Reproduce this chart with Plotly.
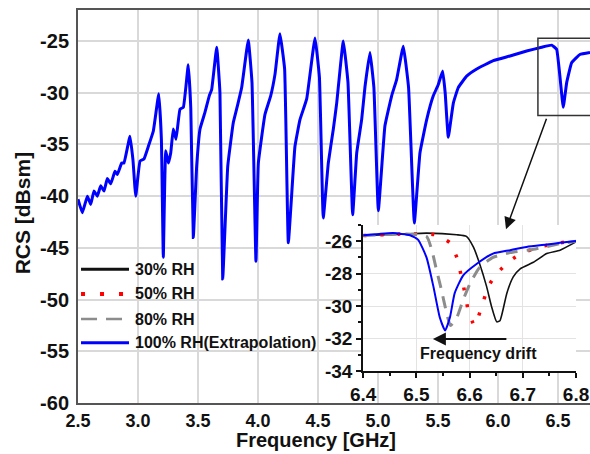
import plotly.graph_objects as go

# ---------------- data ----------------
# main curve (100% RH, extrapolation)
main_f = [2.500, 2.536, 2.578, 2.606, 2.633, 2.661, 2.689, 2.717, 2.744, 2.773, 2.808, 2.828, 2.864, 2.883,
          2.933, 2.958, 2.981, 3.017, 3.050, 3.086, 3.128, 3.173, 3.195, 3.211, 3.231, 3.253, 3.273, 3.294,
          3.317, 3.350, 3.378, 3.419, 3.440, 3.461, 3.489, 3.517, 3.558, 3.594, 3.614, 3.656, 3.683, 3.706,
          3.748, 3.794, 3.828, 3.864, 3.919, 3.950, 3.983, 4.003, 4.058, 4.106, 4.142, 4.183, 4.222, 4.253,
          4.308, 4.350, 4.406, 4.475, 4.512, 4.544, 4.586, 4.628, 4.656, 4.711, 4.750, 4.789, 4.823, 4.864,
          4.892, 4.933, 4.966, 5.003, 5.058, 5.114, 5.156, 5.211, 5.255, 5.303, 5.350, 5.406, 5.461, 5.503,
          5.539, 5.560, 5.586, 5.628, 5.669, 5.739, 5.823, 5.961, 6.100, 6.239, 6.364, 6.448, 6.489, 6.544,
          6.573, 6.614, 6.683, 6.767]
main_rcs = [-40.3, -41.6, -40.0, -40.8, -39.5, -40.0, -39.0, -39.5, -38.3, -38.8, -37.6, -37.9, -36.8, -36.8,
            -34.2, -36.5, -40.0, -36.6, -36.4, -35.2, -33.7, -30.1, -34.5, -45.9, -35.6, -36.8, -35.8, -33.5,
            -34.5, -31.6, -31.4, -27.3, -31.5, -44.0, -37.1, -33.5, -31.9, -30.3, -29.7, -25.6, -30.0, -48.0,
            -37.1, -32.9, -31.3, -29.5, -24.9, -29.0, -46.3, -36.8, -32.1, -30.3, -28.2, -24.3, -27.7, -44.5,
            -35.2, -32.6, -30.6, -24.7, -28.5, -42.1, -36.8, -33.5, -31.0, -25.0, -29.0, -41.8, -35.8, -32.6,
            -29.4, -26.1, -29.5, -41.4, -33.2, -30.3, -28.7, -25.5, -29.5, -42.6, -35.8, -32.6, -30.3, -29.2,
            -27.9, -30.0, -34.3, -31.0, -29.5, -28.4, -27.7, -26.9, -26.45, -25.97, -25.6, -25.4, -25.8, -31.4,
            -29.0, -27.1, -26.3, -26.1]

# inset curves
rh30_f = [6.400, 6.450, 6.519, 6.576, 6.594, 6.607, 6.619, 6.632, 6.641, 6.651, 6.657, 6.670, 6.682, 6.695,
          6.720, 6.745, 6.770, 6.800]
rh30_v = [-25.65, -25.6, -25.5, -25.6, -25.7, -26.35, -27.4, -28.8, -30.0, -30.97, -30.9, -29.2, -28.2, -27.7,
          -27.3, -26.76, -26.55, -26.04]

rh50_f = [6.400, 6.480, 6.535, 6.563, 6.576, 6.582, 6.588, 6.593, 6.597, 6.609, 6.616, 6.626, 6.635, 6.651,
          6.676, 6.701, 6.732, 6.770, 6.800]
rh50_v = [-25.65, -25.55, -25.6, -26.1, -27.0, -27.8, -28.7, -29.5, -30.2, -31.2, -30.7, -29.7, -28.8, -28.0,
          -27.2, -26.7, -26.35, -26.1, -25.98]

rh80_f = [6.400, 6.480, 6.519, 6.529, 6.538, 6.547, 6.557, 6.564, 6.576, 6.588, 6.601, 6.619, 6.644, 6.676,
          6.720, 6.770, 6.800]
rh80_v = [-25.65, -25.55, -25.7, -26.55, -27.8, -29.0, -30.45, -31.2, -30.7, -29.6, -28.6, -27.6, -27.0, -26.7,
          -26.5, -26.15, -26.0]

rh100_f = [6.400, 6.430, 6.456, 6.488, 6.503, 6.519, 6.532, 6.544, 6.554, 6.563, 6.572, 6.588, 6.613, 6.644,
           6.676, 6.707, 6.745, 6.770, 6.800]
rh100_v = [-25.63, -25.55, -25.5, -25.63, -25.9, -27.0, -28.8, -30.7, -31.5, -30.7, -29.2, -28.1, -27.4, -26.76,
           -26.55, -26.35, -26.2, -26.1, -25.98]

main_xticks = [2.5, 3.0, 3.5, 4.0, 4.5, 5.0, 5.5, 6.0, 6.5]
main_yticks = [-25, -30, -35, -40, -45, -50, -55, -60]
inset_xticks = [6.4, 6.5, 6.6, 6.7, 6.8]
inset_yticks = [-26, -28, -30, -32, -34]
legend_names = ["30% RH", "50% RH", "80% RH", "100% RH(Extrapolation)"]

# ---------------- figure ----------------
FONT = "Liberation Sans, Arial, sans-serif"
fig = go.Figure()

fig.add_trace(go.Scatter(x=main_f, y=main_rcs, mode="lines",
                         line=dict(color="#0000ff", width=3, shape="spline", smoothing=0.3),
                         xaxis="x", yaxis="y", showlegend=False, name=legend_names[3]))

fig.add_trace(go.Scatter(x=rh30_f, y=rh30_v, mode="lines", line=dict(color="#111111", width=1.6, shape="spline", smoothing=0.5),
                         xaxis="x2", yaxis="y2", showlegend=False, name=legend_names[0]))
fig.add_trace(go.Scatter(x=rh50_f, y=rh50_v, mode="lines", line=dict(color="#ff0000", width=3.5, dash="3px,14px", shape="spline", smoothing=0.5),
                         xaxis="x2", yaxis="y2", showlegend=False, name=legend_names[1]))
fig.add_trace(go.Scatter(x=rh80_f, y=rh80_v, mode="lines", line=dict(color="#8c8c8c", width=3, dash="12px,9px", shape="spline", smoothing=0.5),
                         xaxis="x2", yaxis="y2", showlegend=False, name=legend_names[2]))
fig.add_trace(go.Scatter(x=rh100_f, y=rh100_v, mode="lines", line=dict(color="#0000ff", width=2, shape="spline", smoothing=0.5),
                         xaxis="x2", yaxis="y2", showlegend=False, name=legend_names[3]))

tickfont = dict(family=FONT, size=18, color="#111111", weight="bold")
ytickfont = dict(family=FONT, size=20, color="#111111", weight="bold")
itickfont = dict(family=FONT, size=19, color="#111111", weight="bold")

fig.update_layout(
    width=590, height=454,
    margin=dict(l=78, r=0, t=10, b=51, autoexpand=False),
    paper_bgcolor="white", plot_bgcolor="white",
    showlegend=False,
    xaxis=dict(domain=[0, 1], range=[2.5, 6.767], tickvals=main_xticks, tickformat=".1f",
               showgrid=True, gridcolor="#d9d9d9", gridwidth=1.5, zeroline=False,
               showline=True, linecolor="#555555", linewidth=2, mirror=True,
               ticks="", tickfont=tickfont),
    yaxis=dict(domain=[0, 1], range=[-60, -22], tickvals=main_yticks,
               ticktext=[str(v) for v in main_yticks],
               showgrid=True, gridcolor="#d9d9d9", gridwidth=1.5, zeroline=False,
               showline=True, linecolor="#555555", linewidth=2,
               ticks="outside", ticklen=3, tickcolor="white", tickfont=ytickfont),
    xaxis2=dict(domain=[0.557, 0.9727], anchor="y2", range=[6.4, 6.8], tickvals=inset_xticks, tickformat=".1f",
                showgrid=True, gridcolor="#e3e3e3", gridwidth=1, zeroline=False,
                showline=True, linecolor="#111111", linewidth=2,
                ticks="outside", ticklen=5, tickwidth=2, tickcolor="#111111", tickfont=itickfont,
                minor=dict(ticks="outside", ticklen=3, tickwidth=1.5, tickcolor="#111111", dtick=0.05, tick0=6.4, showgrid=False)),
    yaxis2=dict(domain=[0.0814, 0.4529], anchor="x2", range=[-34, -25], tickvals=inset_yticks,
                ticktext=[str(v) for v in inset_yticks],
                showgrid=True, gridcolor="#e3e3e3", gridwidth=1, zeroline=False,
                showline=True, linecolor="#111111", linewidth=2,
                ticks="outside", ticklen=5, tickwidth=2, tickcolor="#111111", tickfont=itickfont,
                minor=dict(ticks="outside", ticklen=3, tickwidth=1.5, tickcolor="#111111", dtick=1, tick0=-35, showgrid=False)),
)

shapes = []
# zoom box on main plot
shapes.append(dict(type="rect", xref="x", yref="y", x0=6.333, x1=6.80, y0=-32.2, y1=-24.74,
                   line=dict(color="#333333", width=1.5)))
# manual legend lines
leg_y = [0.3402, 0.2774, 0.2137, 0.1534]
leg_styles = [dict(color="#111111", width=3),
              dict(color="#ff0000", width=4, dash="4px,15px"),
              dict(color="#8c8c8c", width=2.5, dash="16px,9px"),
              dict(color="#0000ff", width=3)]
for yy, st in zip(leg_y, leg_styles):
    shapes.append(dict(type="line", xref="paper", yref="paper", x0=0.0059, x1=0.0996, y0=yy, y1=yy, line=st))
fig.update_layout(shapes=shapes)

ann = []
for yy, name in zip(leg_y, legend_names):
    ann.append(dict(xref="paper", yref="paper", x=0.1074, y=yy, xanchor="left", yanchor="middle",
                    text=name, showarrow=False, font=dict(family=FONT, size=16, color="#111111", weight="bold")))
# axis titles
ann.append(dict(xref="paper", yref="paper", x=0.465, y=-0.127, xanchor="center", yanchor="bottom",
                text="Frequency [GHz]", showarrow=False, font=dict(family=FONT, size=20, color="#111111", weight="bold")))
ann.append(dict(xref="paper", yref="paper", x=-0.109, y=0.483, xanchor="center", yanchor="middle", textangle=-90,
                text="RCS [dBsm]", showarrow=False, font=dict(family=FONT, size=21, color="#111111", weight="bold")))
# pointer arrow from box to inset
ann.append(dict(xref="x", yref="y", x=6.067, y=-43.2, ax=41, ay=-112, text="", showarrow=True,
                arrowhead=2, arrowsize=1.6, arrowwidth=1.5, arrowcolor="#111111"))
# frequency drift arrow + label
ann.append(dict(xref="x2", yref="y2", x=6.531, y=-32.03, ax=75, ay=0, text="", showarrow=True,
                arrowhead=2, arrowsize=1.3, arrowwidth=2, arrowcolor="#111111"))
ann.append(dict(xref="x2", yref="y2", x=6.616, y=-32.9, text="Frequency drift", showarrow=False,
                xanchor="center", yanchor="middle", font=dict(family=FONT, size=16, color="#111111", weight="bold")))
fig.update_layout(annotations=ann)

fig.write_html("out.html", config={"displayModeBar": False},
               post_script="document.body.style.margin='0';document.body.style.overflow='hidden';")
